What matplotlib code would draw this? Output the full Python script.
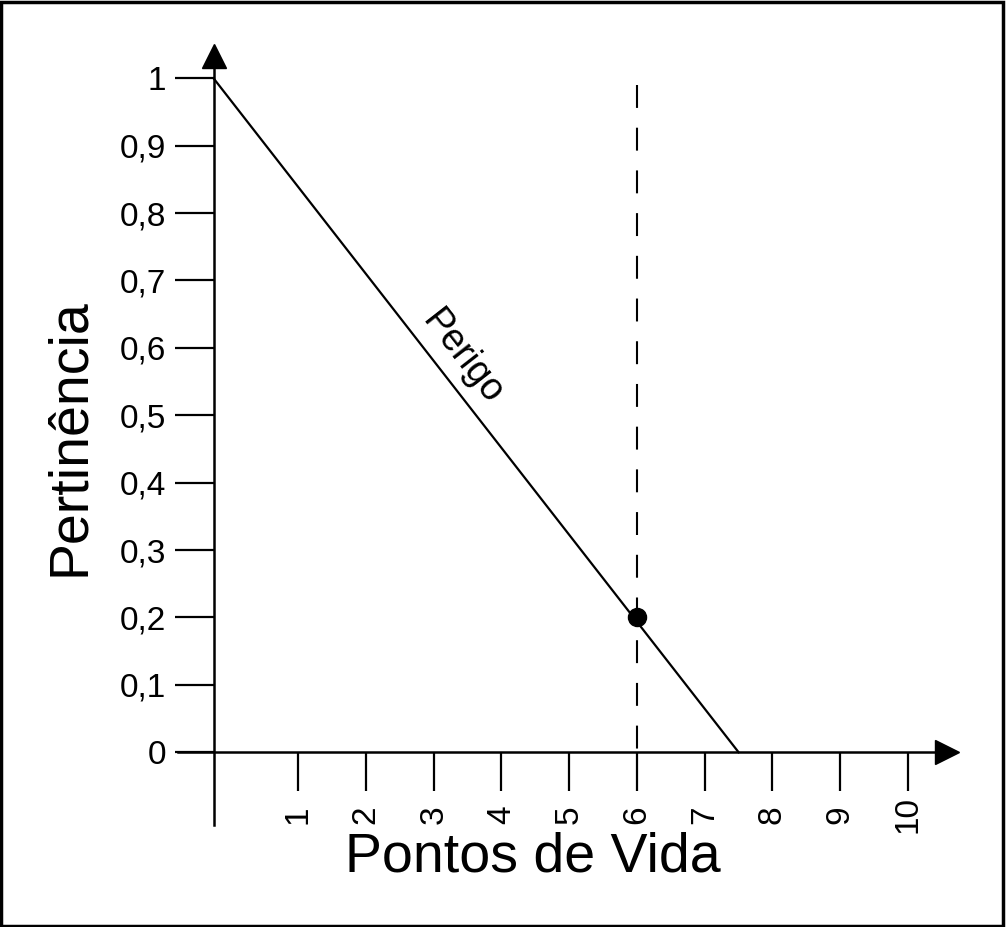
import matplotlib
matplotlib.use('Agg')
import matplotlib.pyplot as plt
from matplotlib.patches import Rectangle

plt.rcParams['font.family'] = ['Liberation Sans', 'DejaVu Sans']

# data
perigo_x = [-0.25, 7.5]
perigo_y = [1.0, 0.0]
ponto_x = 6
ponto_y = 0.2
corte_top = 0.99
x_ticks = [1, 2, 3, 4, 5, 6, 7, 8, 9, 10]
y_ticks = [0, 0.1, 0.2, 0.3, 0.4, 0.5, 0.6, 0.7, 0.8, 0.9, 1]
y_labels = ['0', '0,1', '0,2', '0,3', '0,4', '0,5', '0,6', '0,7', '0,8', '0,9', '1']

fig = plt.figure(figsize=(10.06, 9.27), dpi=100)
ax = fig.add_axes([178 / 1006, 102 / 927, 769 / 1006, 769 / 927])
ax.set_xlim(-0.775, 10.576)
ax.set_ylim(-0.1079, 1.0331)

# axes as arrows
ax.spines['top'].set_visible(False)
ax.spines['right'].set_visible(False)
ax.spines['left'].set_position(('data', -0.25))
ax.spines['bottom'].set_position(('data', 0))
for s in ['left', 'bottom']:
    ax.spines[s].set_linewidth(1.8)
ax.plot(1, 0, '>', color='black', markersize=17, transform=ax.get_yaxis_transform(), clip_on=False)
ax.plot(-0.25, 1, '^', color='black', markersize=17, transform=ax.get_xaxis_transform(), clip_on=False)

ax.set_xticks(x_ticks)
ax.set_xticklabels([str(v) for v in x_ticks], rotation=90, va='center', fontsize=24)
ax.set_yticks(y_ticks)
ax.set_yticklabels(y_labels, fontsize=24)
ax.tick_params(axis='x', direction='out', length=28, width=1.6, pad=17)
ax.tick_params(axis='y', direction='out', length=28, width=1.6, pad=6)

# membership line, cut line and point
ax.plot(perigo_x, perigo_y, color='black', linewidth=1.6)
ax.plot([ponto_x, ponto_x], [corte_top, 0], color='black', linewidth=1.5, dashes=(11, 9.5))
ax.plot(ponto_x, ponto_y, 'o', color='black', markersize=13)

ax.text(3.42, 0.585, 'Perigo', rotation=-52, ha='center', va='center', fontsize=27)

fig.text(533 / 1006, 1 - 858 / 927, 'Pontos de Vida', ha='center', va='center', fontsize=40)
fig.text(70 / 1006, 1 - 437 / 927, 'Pertinência', ha='center', va='center', rotation=90, fontsize=40)

# frame around the whole picture
fig.patches.append(Rectangle((0.001, 0.001), 0.996, 0.997, transform=fig.transFigure,
                             fill=False, edgecolor='black', linewidth=2.5))

fig.savefig('out.png', dpi=100)
